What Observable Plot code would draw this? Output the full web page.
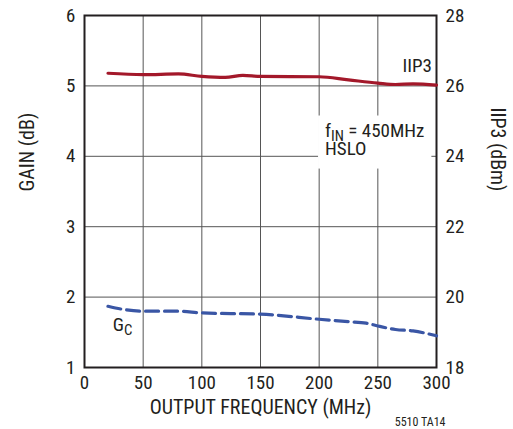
<!DOCTYPE html>
<html>
<head>
<meta charset="utf-8">
<script src="https://cdn.jsdelivr.net/npm/d3@7"></script>
<script src="https://cdn.jsdelivr.net/npm/@observablehq/plot@0.6"></script>
<style>
  html, body { margin: 0; padding: 0; background: #fff; }
  svg { display: block; }
</style>
</head>
<body>
<div id="chart"></div>
<script>
// ---- data ----
const xTicks = [0, 50, 100, 150, 200, 250, 300];
const gainTicks = [1, 2, 3, 4, 5, 6];
const iip3Ticks = [18, 20, 22, 24, 26, 28];

const iip3Freq = [20, 50, 80, 100, 120, 135, 150, 200, 225, 250, 265, 280, 300];
const iip3Vals = [26.36, 26.32, 26.34, 26.27, 26.24, 26.30, 26.27, 26.26, 26.17, 26.08, 26.04, 26.06, 26.02];

const gcFreq = [20, 35, 50, 80, 100, 150, 200, 225, 240, 250, 265, 280, 300];
const gcVals = [1.87, 1.82, 1.80, 1.80, 1.775, 1.757, 1.685, 1.65, 1.63, 1.59, 1.54, 1.52, 1.45];

// IIP3 (dBm) maps onto the gain axis: 18..28 dBm <-> 1..6 dB
const toGain = v => 1 + (v - 18) / 2;

const iip3Data = iip3Freq.map((f, i) => ({f, g: toGain(iip3Vals[i])}));
const gcData = gcFreq.map((f, i) => ({f, g: gcVals[i]}));
const rightTickData = iip3Ticks.map(v => ({g: toGain(v), label: String(v)}));

const FONT = "'Roboto Condensed', Roboto, sans-serif";
const INK = "#231f20";

const notes = ["IIP3", "f_IN = 450MHz\nHSLO"];

const chart = Plot.plot({
  width: 513,
  height: 429,
  marginLeft: 84,
  marginRight: 77,
  marginTop: 15,
  marginBottom: 62,
  style: {fontFamily: FONT, fontSize: "19px", color: INK, background: "#fff", fontStretch: "condensed"},
  x: {domain: [0, 300]},
  y: {domain: [1, 6]},
  marks: [
    Plot.gridX(xTicks.slice(1, -1), {stroke: "#555", strokeOpacity: 1, strokeWidth: 1}),
    Plot.gridY(gainTicks.slice(1, -1), {stroke: "#555", strokeOpacity: 1, strokeWidth: 1}),
    Plot.text([notes[0]], {x: 296, y: 5.29, textAnchor: "end", fontSize: 19, fill: INK, className: "note"}),
    Plot.text([notes[1]], {x: 205, y: 4.235, textAnchor: "start", fontSize: 19, lineHeight: 0.95, fill: INK, className: "note"}),
    Plot.text(["G_C"], {x: 24, y: 1.6, textAnchor: "start", fontSize: 19, fill: INK}),
    Plot.frame({stroke: INK, strokeWidth: 2}),
    Plot.axisX(xTicks, {tickSize: 0, tickPadding: 8, fontSize: 19, label: null, fill: INK}),
    Plot.axisY(gainTicks, {anchor: "left", tickSize: 0, tickPadding: 9, fontSize: 19, label: null, fill: INK, tickFormat: d => String(d)}),
    Plot.text(rightTickData, {y: "g", text: "label", frameAnchor: "right", dx: 9, textAnchor: "start", fontSize: 19, fill: INK}),
    Plot.line(iip3Data, {x: "f", y: "g", stroke: "#a3182a", strokeWidth: 3.2, curve: "monotone-x"}),
    Plot.line(gcData, {x: "f", y: "g", stroke: "#3a56a5", strokeWidth: 3.2, strokeDasharray: "13,6", curve: "monotone-x"}),
    // axis titles & caption
    Plot.text(["OUTPUT FREQUENCY (MHz)"], {frameAnchor: "bottom", dy: 46, fontSize: 20, fill: INK}),
    Plot.text(["GAIN (dB)"], {frameAnchor: "left", dx: -57, rotate: -90, fontSize: 20, fill: INK}),
    Plot.text(["IIP3 (dBm)"], {frameAnchor: "right", dx: 61, rotate: 90, fontSize: 20, fill: INK}),
    Plot.text(["5510 TA14"], {frameAnchor: "bottom-right", dx: 9, dy: 58, textAnchor: "end", fontSize: 12, fill: INK})
  ]
});

document.getElementById("chart").appendChild(chart);

const svg = d3.select(chart);

// subscripts: replace "X_SUB rest" inside leaf text/tspan nodes
svg.selectAll("text, tspan").each(function() {
  if (this.children.length) return;
  const t = this.textContent;
  const m = /^(.*?)_([A-Z]+)(.*)$/.exec(t);
  if (!m) return;
  const sel = d3.select(this);
  sel.text(null);
  sel.append("tspan").text(m[1]);
  sel.append("tspan").attr("dy", "4").attr("font-size", "0.78em").text(m[2]);
  sel.append("tspan").attr("dy", "-4").text(m[3] || "");
});

// white boxes behind annotations (masking grid lines)
const svgBox = chart.getBoundingClientRect();
const noteGroups = Array.from(chart.querySelectorAll("g.note"));
const noteTexts = noteGroups.flatMap(g => Array.from(g.querySelectorAll(":scope > text")));
if (noteTexts.length) {
  const firstG = noteGroups[0];
  const parent = firstG.parentNode;
  for (const el of noteTexts) {
    const r = el.getBoundingClientRect();
    const isIIP3 = el.textContent === "IIP3";
    const pad = isIIP3 ? 3 : 7;
    const rect = document.createElementNS("http://www.w3.org/2000/svg", "rect");
    rect.setAttribute("x", r.left - svgBox.left - pad);
    rect.setAttribute("y", r.top - svgBox.top - 3);
    rect.setAttribute("width", r.width + 2 * pad);
    rect.setAttribute("height", r.height + (isIIP3 ? 6 : 12));
    rect.setAttribute("fill", "white");
    parent.insertBefore(rect, firstG);
  }
}
</script>
</body>
</html>
